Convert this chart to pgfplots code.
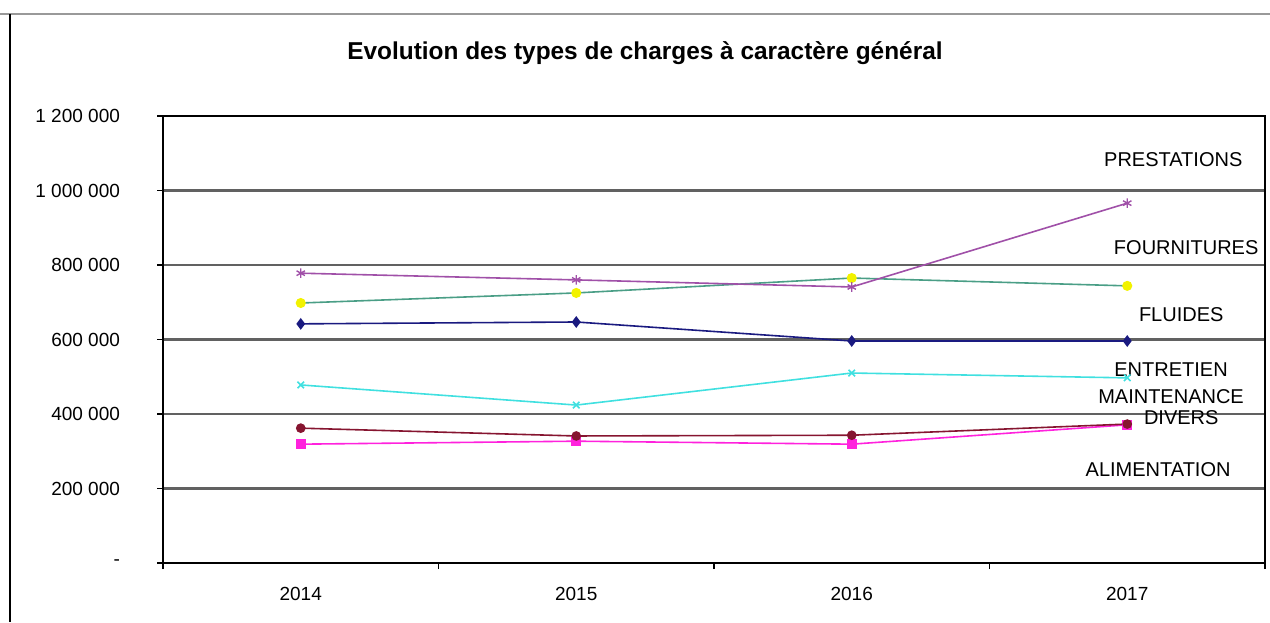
\documentclass[border=0pt]{standalone}
\usepackage{fontspec}
\setmainfont{Liberation Sans}
\usepackage{pgfplots}
\pgfplotsset{compat=1.18}

\definecolor{cFluides}{HTML}{1A1A80}
\definecolor{cAlim}{HTML}{FF22DD}
\definecolor{cFournLine}{HTML}{4A9E86}
\definecolor{cFournMark}{HTML}{F2F200}
\definecolor{cEntretien}{HTML}{40E0E0}
\definecolor{cPrest}{HTML}{A050A8}
\definecolor{cDivers}{HTML}{861530}

\begin{document}
\begin{tikzpicture}
\path[use as bounding box] (-81.5pt,-29.5pt) rectangle (553.5pt,281.5pt);
% outer frame of the sheet
\draw[black!40, line width=1.2pt] (-81.5pt,274.5pt) -- (553.5pt,274.5pt);
\draw[black, line width=0.8pt] (-76.5pt,274.5pt) -- (-76.5pt,-29.5pt);
\node[font=\fontsize{12.2}{14}\selectfont\bfseries] at (241pt,255pt)
  {Evolution des types de charges à caractère général};

\begin{axis}[
  at={(0,0)}, anchor=south west,
  scale only axis, width=551pt, height=223.5pt,
  xmin=2013.5, xmax=2017.5, ymin=0, ymax=1200000,
  xtick={2013.5,2014.5,2015.5,2016.5,2017.5},
  x tick label as interval,
  xticklabels={2014,2015,2016,2017},
  ytick={0,200000,400000,600000,800000,1000000,1200000},
  yticklabels={-,200 000,400 000,600 000,800 000,1 000 000,1 200 000},
  scaled y ticks=false,
  tick pos=left,
  tick align=outside, major tick length=3pt,
  tick style={black, line width=0.6pt},
  ymajorgrids,
  major grid style={black!62, line width=1.1pt},
  axis line style={black, line width=0.7pt},
  tick label style={font=\fontsize{9.5}{11}\selectfont},
  yticklabel style={xshift=-15pt},
  xticklabel style={yshift=-5.5pt},
  every axis plot/.append style={line width=0.8pt},
]
% FOURNITURES
\addplot[cFournLine, mark=*, mark size=2.1pt, mark options={draw=cFournMark, fill=cFournMark}]
  coordinates {(2014,698000)(2015,725000)(2016,765000)(2017,744000)};
% PRESTATIONS
\addplot[cPrest, mark=asterisk, mark size=2.4pt, mark options={line width=0.7pt}]
  coordinates {(2014,778000)(2015,760000)(2016,741000)(2017,966000)};
% FLUIDES
\addplot[cFluides, mark=diamond*, mark size=2.3pt]
  coordinates {(2014,642000)(2015,647000)(2016,596000)(2017,596000)};
% ENTRETIEN MAINTENANCE
\addplot[cEntretien, mark=x, mark size=2.3pt]
  coordinates {(2014,478000)(2015,424000)(2016,510000)(2017,497000)};
% ALIMENTATION
\addplot[cAlim, mark=square*, mark size=2.1pt]
  coordinates {(2014,319000)(2015,327000)(2016,319000)(2017,371000)};
% DIVERS
\addplot[cDivers, mark=*, mark size=2pt]
  coordinates {(2014,362000)(2015,341000)(2016,343000)(2017,373000)};

\begin{scope}[every node/.style={font=\fontsize{10}{12}\selectfont, inner sep=0pt}]
\node at (axis cs:2017.167,1082000) {PRESTATIONS};
\node at (axis cs:2017.214,846000) {FOURNITURES};
\node at (axis cs:2017.196,666000) {FLUIDES};
\node at (axis cs:2017.159,518000) {ENTRETIEN};
\node at (axis cs:2017.159,446000) {MAINTENANCE};
\node at (axis cs:2017.196,389000) {DIVERS};
\node at (axis cs:2017.112,250000) {ALIMENTATION};
\end{scope}
\end{axis}
\end{tikzpicture}
\end{document}
